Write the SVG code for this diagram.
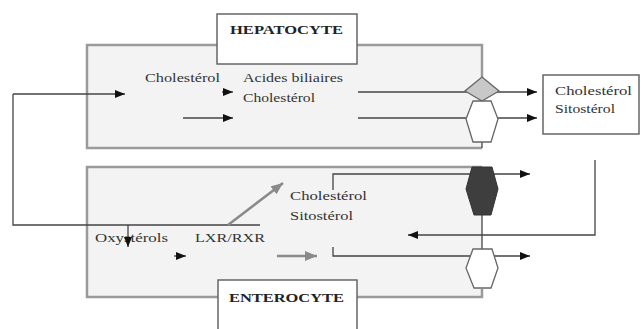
<svg xmlns="http://www.w3.org/2000/svg" width="641" height="329" viewBox="0 0 641 329">
<style>
.cell{fill:#f3f3f3;stroke:none}
.edge{fill:none;stroke:#9a9a9a;stroke-width:2.5}
.lbl{fill:#fff;stroke:#666;stroke-width:1.5}
.t{font-family:"Liberation Serif",serif;font-size:12px;fill:#333}
.b{font-family:"Liberation Serif",serif;font-size:13px;font-weight:bold;fill:#222}
.c{fill:none;stroke:#444;stroke-width:1.3}
.g{fill:none;stroke:#8a8a8a;stroke-width:2.5}
.hex{fill:#fff;stroke:#666;stroke-width:1.3}
</style>
<defs>
<marker id="ah" viewBox="0 0 10 8" refX="10" refY="4" markerWidth="10" markerHeight="8" markerUnits="userSpaceOnUse" orient="auto">
<path d="M0,0 L10,4 L0,8 Z" fill="#111"/>
</marker>
<marker id="ag" viewBox="0 0 12 10" refX="12" refY="5" markerWidth="12" markerHeight="10" markerUnits="userSpaceOnUse" orient="auto">
<path d="M0,0 L12,5 L0,10 Z" fill="#8a8a8a"/>
</marker>
</defs>
<g id="hepatocyte">
<rect class="cell" x="87" y="45" width="395" height="103"/>
<path class="edge" d="M217,45 H87 V148 H482 M357,45 H482 V77"/>
<text class="t" x="145" y="82" textLength="75" lengthAdjust="spacingAndGlyphs">Cholestérol</text>
<text class="t" x="243" y="82" textLength="100" lengthAdjust="spacingAndGlyphs">Acides biliaires</text>
<text class="t" x="243" y="102" textLength="72" lengthAdjust="spacingAndGlyphs">Cholestérol</text>
</g>
<g id="hepatocyte-label">
<rect class="lbl" x="217" y="14" width="140" height="50"/>
<text class="b" x="230" y="34" textLength="113" lengthAdjust="spacingAndGlyphs">HEPATOCYTE</text>
</g>
<g id="enterocyte">
<rect class="cell" x="87" y="167" width="395" height="130"/>
<path class="edge" d="M482,167 H87 V297 H218 M357,297 H482 V289"/>
<text class="t" x="290" y="200" textLength="77" lengthAdjust="spacingAndGlyphs">Cholestérol</text>
<text class="t" x="290" y="220" textLength="63" lengthAdjust="spacingAndGlyphs">Sitostérol</text>
<text class="t" x="95" y="242" textLength="73" lengthAdjust="spacingAndGlyphs">Oxystérols</text>
<text class="t" x="195" y="242" textLength="70" lengthAdjust="spacingAndGlyphs">LXR/RXR</text>
</g>
<g id="enterocyte-label">
<rect class="lbl" x="218" y="280" width="139" height="50"/>
<text class="b" x="229" y="302" textLength="115" lengthAdjust="spacingAndGlyphs">ENTEROCYTE</text>
</g>
<g id="bile-box">
<rect class="lbl" x="543" y="75" width="96" height="59" stroke="#888"/>
<text class="t" x="555" y="95" textLength="77" lengthAdjust="spacingAndGlyphs">Cholestérol</text>
<text class="t" x="555" y="113" textLength="60" lengthAdjust="spacingAndGlyphs">Sitostérol</text>
</g>
<g id="connectors">
<path class="c" d="M13,94 V225 H260" />
<path class="c" d="M13,94 H125" marker-end="url(#ah)"/>
<path class="c" d="M222,92 H233" marker-end="url(#ah)"/>
<path class="c" d="M183,118 H233" marker-end="url(#ah)"/>
<path class="c" d="M358,92 H499" />
<path class="c" d="M358,118 H466" />
<path class="c" d="M499,92 H537" marker-end="url(#ah)"/>
<path class="c" d="M498,118 H537" marker-end="url(#ah)"/>
<path class="c" d="M482,142 V148" />
<path class="c" d="M128,225 V247" marker-end="url(#ah)"/>
<path class="c" d="M174,256 H186" marker-end="url(#ah)"/>
<path class="g" d="M228,225 L283,183" marker-end="url(#ag)"/>
<path class="g" d="M277,256 H317" marker-end="url(#ag)"/>
<path class="c" d="M333,190 V174 H530" marker-end="url(#ah)"/>
<path class="c" d="M333,247 V256 H530" marker-end="url(#ah)"/>
<path class="c" d="M595,160 V235 H408" marker-end="url(#ah)"/>
<path class="c" d="M482,215 V249" />
</g>
<g id="abcg-diamond">
<polygon points="482,77 499,91 482,101 465,91" fill="#c8c8c8" stroke="#666" stroke-width="1.3"/>
</g>
<g id="hex-hepatocyte">
<polygon class="hex" points="473,101 491,101 498,119 491,142 473,142 466,119"/>
</g>
<g id="hex-dark">
<polygon points="472,167 492,167 498,189 491,215 474,215 466,189" fill="#3e3e3e" stroke="#333" stroke-width="1"/>
</g>
<g id="hex-enterocyte">
<polygon class="hex" points="473,249 492,249 498,268 491,288 474,288 466,268"/>
</g>
</svg>
